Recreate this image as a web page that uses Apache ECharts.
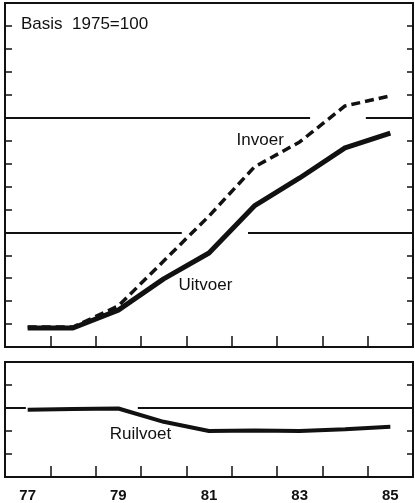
<!DOCTYPE html>
<html>
<head>
<meta charset="utf-8">
<script src="https://cdn.jsdelivr.net/npm/echarts@6/dist/echarts.min.js"></script>
<style>
html,body{margin:0;padding:0;background:#fff;}
#chart{width:415px;height:503px;}
</style>
</head>
<body>
<div id="chart"></div>
<script>
// jaren (midden van het jaar), streepjes op de jaargrenzen
var years = [1977, 1978, 1979, 1980, 1981, 1982, 1983, 1984, 1985];
var yearLabels = [1977, 1979, 1981, 1983, 1985];
var yearTicks = [1977.5, 1978.5, 1979.5, 1980.5, 1981.5, 1982.5, 1983.5, 1984.5];

// prijsindices, basis 1975=100
var invoer = [108.7, 108.7, 117.9, 137.5, 157.1, 178.5, 189.4, 205.1, 209.5];
var uitvoer = [108.3, 108.3, 116.1, 129.7, 141.0, 161.5, 173.7, 186.8, 193.3];
var ruilvoet = [99.6, 99.8, 99.9, 97.0, 95.0, 95.1, 95.0, 95.4, 95.9];

// hulplijnen (met onderbrekingen zoals in het origineel)
var refTop200 = [[1976.5, 1983.23], [1984.46, 1985.5]];
var refTop150 = [[1976.5, 1980.4], [1981.86, 1985.5]];
var refBottom100 = [[1976.5, 1976.96], [1979.43, 1985.5]];

var font = "'Liberation Sans', Arial, sans-serif";

function pairs(xs, ys) {
    return xs.map(function (x, i) { return [x, ys[i]]; });
}
function segs(list, y) {
    return list.map(function (s) { return [{coord: [s[0], y]}, {coord: [s[1], y]}]; });
}

var chart = echarts.init(document.getElementById("chart"));
chart.setOption({
    animation: false,
    backgroundColor: "#fff",
    title: {
        text: "Basis  1975=100",
        left: 16,
        top: 11,
        textStyle: {fontFamily: font, fontSize: 17, fontWeight: "normal", color: "#111"}
    },
    grid: [
        {left: 5, right: 2, top: 3, height: 344, show: true, borderColor: "#111", borderWidth: 2},
        {left: 5, right: 2, top: 362, height: 115, show: true, borderColor: "#111", borderWidth: 2}
    ],
    xAxis: [
        {
            type: "value", gridIndex: 0, min: 1976.5, max: 1985.5,
            axisLine: {show: false}, splitLine: {show: false},
            axisTick: {show: true, inside: true, length: 11, customValues: yearTicks, lineStyle: {color: "#111", width: 1.5}},
            axisLabel: {show: false}
        },
        {
            type: "value", gridIndex: 1, min: 1976.5, max: 1985.5,
            axisLine: {show: false}, splitLine: {show: false},
            axisTick: {show: true, inside: true, length: 11, customValues: yearTicks, lineStyle: {color: "#111", width: 1.5}},
            axisLabel: {
                show: true, customValues: yearLabels, margin: 11,
                fontFamily: font, fontSize: 15, fontWeight: "bold", color: "#111",
                formatter: function (v) { return String(Math.round(v)).slice(2); }
            }
        }
    ],
    yAxis: [
        {
            type: "value", gridIndex: 0, min: 100, max: 250, interval: 10, position: "left",
            axisLine: {show: false}, splitLine: {show: false}, axisLabel: {show: false},
            axisTick: {inside: true, length: 7, lineStyle: {color: "#111", width: 1.5}}
        },
        {
            type: "value", gridIndex: 0, min: 100, max: 250, interval: 10, position: "right",
            axisLine: {show: false}, splitLine: {show: false}, axisLabel: {show: false},
            axisTick: {inside: true, length: 6, lineStyle: {color: "#111", width: 1.5}}
        },
        {
            type: "value", gridIndex: 1, min: 85, max: 110, interval: 5, position: "left",
            axisLine: {show: false}, splitLine: {show: false}, axisLabel: {show: false},
            axisTick: {inside: true, length: 7, lineStyle: {color: "#111", width: 1.5}}
        },
        {
            type: "value", gridIndex: 1, min: 85, max: 110, interval: 5, position: "right",
            axisLine: {show: false}, splitLine: {show: false}, axisLabel: {show: false},
            axisTick: {inside: true, length: 6, lineStyle: {color: "#111", width: 1.5}}
        }
    ],
    series: [
        {
            name: "Invoer",
            type: "line",
            xAxisIndex: 0, yAxisIndex: 0,
            data: pairs(years, invoer),
            showSymbol: false,
            lineStyle: {color: "#111", width: 3.5, type: [9, 5]},
            markLine: {
                silent: true, symbol: "none", label: {show: false},
                lineStyle: {color: "#111", width: 2, type: "solid"},
                data: segs(refTop200, 200).concat(segs(refTop150, 150))
            },
            markPoint: {
                symbol: "circle", symbolSize: 0,
                label: {show: true, formatter: "Invoer", fontFamily: font, fontSize: 17, color: "#111"},
                data: [{coord: [1982.13, 190.3]}]
            }
        },
        {
            name: "Uitvoer",
            type: "line",
            xAxisIndex: 0, yAxisIndex: 0,
            data: pairs(years, uitvoer),
            showSymbol: false,
            lineStyle: {color: "#111", width: 5},
            markPoint: {
                symbol: "circle", symbolSize: 0,
                label: {show: true, formatter: "Uitvoer", fontFamily: font, fontSize: 17, color: "#111"},
                data: [{coord: [1980.92, 127]}]
            }
        },
        {
            name: "Ruilvoet",
            type: "line",
            xAxisIndex: 1, yAxisIndex: 2,
            data: pairs(years, ruilvoet),
            showSymbol: false,
            lineStyle: {color: "#111", width: 4},
            markLine: {
                silent: true, symbol: "none", label: {show: false},
                lineStyle: {color: "#111", width: 2, type: "solid"},
                data: segs(refBottom100, 100)
            },
            markPoint: {
                symbol: "circle", symbolSize: 0,
                label: {show: true, formatter: "Ruilvoet", fontFamily: font, fontSize: 17, color: "#111"},
                data: [{coord: [1979.49, 94.35]}]
            }
        }
    ]
});
</script>
</body>
</html>
